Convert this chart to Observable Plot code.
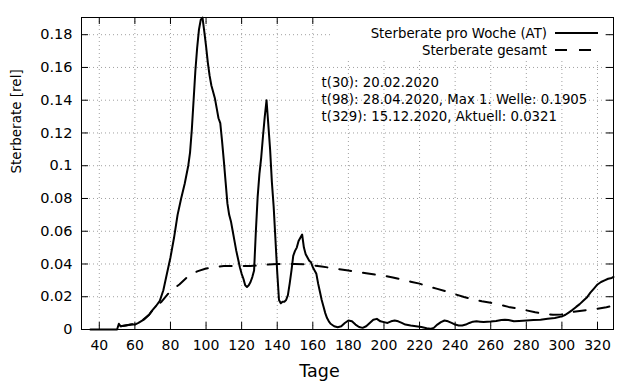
<!DOCTYPE html>
<html>
<head>
<meta charset="utf-8">
<script src="https://cdn.jsdelivr.net/npm/d3@7"></script>
<script src="https://cdn.jsdelivr.net/npm/@observablehq/plot@0.6"></script>
<style>
  html, body { margin: 0; padding: 0; background: white; }
  #wrap { position: relative; width: 640px; height: 384px; font-family: "DejaVu Sans", sans-serif; }
  #legend { position: absolute; left: 333px; top: 18px; }
</style>
</head>
<body>
<div id="wrap"></div>
<script>
// ---- data ----
const weeklyDays = [35,40,45,50,51,52,55,58,60,62,65,68,70,72,74,76,78,80,82,84,86,88,90,91,92,93,94,95,96,97,98,99,100,101,102,103,104,105,106,107,108,109,110,111,112,113,114,115,116,117,118,119,120,121,122,123,124,125,126,127,128,129,130,131,132,133,134,135,136,137,138,139,140,141,142,143,144,145,146,147,148,149,150,151,152,153,154,155,156,157,158,159,160,161,162,163,164,165,166,167,168,169,170,172,174,176,178,180,182,184,186,188,190,192,194,196,198,200,202,204,206,208,210,212,215,218,221,224,226,228,230,232,234,236,238,240,242,244,246,248,250,252,254,256,258,260,263,266,268,270,273,276,280,284,288,292,296,300,302,304,306,308,310,312,314,316,318,320,322,324,326,328,329];
const weeklyRate = [0,0,0,0,0.0035,0.002,0.0025,0.003,0.003,0.004,0.006,0.009,0.012,0.0145,0.0175,0.024,0.034,0.044,0.056,0.070,0.080,0.089,0.100,0.108,0.122,0.140,0.158,0.172,0.183,0.189,0.1905,0.182,0.173,0.163,0.155,0.149,0.145,0.141,0.135,0.129,0.126,0.115,0.103,0.090,0.077,0.070,0.066,0.060,0.054,0.048,0.043,0.038,0.034,0.031,0.027,0.026,0.027,0.029,0.032,0.036,0.060,0.081,0.095,0.105,0.118,0.130,0.140,0.125,0.110,0.090,0.075,0.055,0.035,0.018,0.016,0.017,0.017,0.018,0.021,0.028,0.036,0.045,0.048,0.050,0.054,0.056,0.058,0.050,0.046,0.044,0.042,0.041,0.038,0.036,0.034,0.028,0.023,0.018,0.014,0.010,0.007,0.005,0.0035,0.002,0.0014,0.002,0.004,0.0055,0.005,0.003,0.0015,0.001,0.002,0.004,0.006,0.0065,0.005,0.0045,0.004,0.005,0.0055,0.005,0.004,0.003,0.0024,0.002,0.0015,0.0008,0.0004,0.001,0.003,0.0045,0.0055,0.005,0.004,0.003,0.0025,0.0025,0.003,0.004,0.0048,0.005,0.0048,0.0046,0.0048,0.0049,0.0052,0.0058,0.006,0.0058,0.005,0.0052,0.0055,0.0058,0.006,0.0065,0.007,0.008,0.009,0.0105,0.012,0.0138,0.0155,0.0175,0.0195,0.0225,0.025,0.0275,0.029,0.030,0.031,0.0315,0.0321];

const totalDays = [52,56,60,64,68,71,75,80,85,90,95,100,105,110,115,120,125,130,135,140,145,150,155,160,165,170,175,180,185,190,195,200,205,210,215,220,225,230,235,240,245,250,255,260,265,270,275,280,285,290,295,300,305,310,315,320,325,329];
const totalRate = [0.002,0.0028,0.0035,0.0055,0.009,0.0135,0.017,0.0235,0.0275,0.0325,0.0355,0.0372,0.0383,0.0387,0.0388,0.0388,0.0388,0.0392,0.0397,0.0400,0.0401,0.0400,0.0399,0.0392,0.0385,0.0376,0.0368,0.0360,0.0352,0.0343,0.0335,0.0328,0.0318,0.0305,0.0292,0.0280,0.0262,0.0248,0.0232,0.0215,0.0198,0.0185,0.0172,0.0163,0.0152,0.0138,0.0128,0.0117,0.0105,0.0097,0.0090,0.0092,0.0105,0.0113,0.0120,0.0127,0.0136,0.0145];

const xTicks = [40,60,80,100,120,140,160,180,200,220,240,260,280,300,320];
const yTicks = [0,0.02,0.04,0.06,0.08,0.1,0.12,0.14,0.16,0.18];
const seriesNames = ["Sterberate pro Woche (AT)", "Sterberate gesamt"];
const annotationLines = [
  "t(30): 20.02.2020",
  "t(98): 28.04.2020, Max 1. Welle: 0.1905",
  "t(329): 15.12.2020, Aktuell: 0.0321"
];
const xLabel = "Tage";
const yLabel = "Sterberate [rel]";

// ---- tables ----
const weekly = weeklyDays.map((d, i) => ({day: d, rate: weeklyRate[i]}));
const total = totalDays.map((d, i) => ({day: d, rate: totalRate[i]}));

const W = 640, H = 384, mL = 81, mR = 27, mT = 17, mB = 55;
const innerH = H - mT - mB, innerW = W - mL - mR;
const tickLen = 7;
const gridStyle = {stroke: "#a0a0a0", strokeOpacity: 1, strokeWidth: 1, strokeDasharray: "1,3"};

const chart = Plot.plot({
  width: W, height: H,
  marginLeft: mL, marginRight: mR, marginTop: mT, marginBottom: mB,
  style: {fontFamily: "DejaVu Sans, sans-serif", fontSize: "14px", color: "black", background: "white"},
  x: {domain: [30, 329]},
  y: {domain: [0, 0.1905]},
  marks: [
    Plot.gridX(xTicks, gridStyle),
    Plot.gridY(yTicks.filter(d => d > 0), gridStyle),
    Plot.tickX(xTicks, {x: d => d, insetTop: innerH - tickLen, stroke: "black"}),
    Plot.tickX(xTicks, {x: d => d, insetBottom: innerH - tickLen, stroke: "black"}),
    Plot.tickY(yTicks, {y: d => d, insetRight: innerW - tickLen, stroke: "black"}),
    Plot.tickY(yTicks, {y: d => d, insetLeft: innerW - tickLen, stroke: "black"}),
    Plot.axisX({ticks: xTicks, tickSize: 0, tickPadding: 11, label: null, fontSize: 14}),
    Plot.axisY({ticks: yTicks, tickSize: 0, tickPadding: 9, label: null, fontSize: 14.5,
      tickFormat: d => String(+d.toFixed(2))}),
    Plot.text([yLabel], {frameAnchor: "left", dx: -65, rotate: -90, fontSize: 13.5}),
    Plot.text([xLabel], {frameAnchor: "bottom", dx: -28, dy: 47, fontSize: 17.5}),
    Plot.line(total, {x: "day", y: "rate", stroke: "black", strokeWidth: 2, strokeDasharray: "12,12"}),
    Plot.line(weekly, {x: "day", y: "rate", stroke: "black", strokeWidth: 2}),
    Plot.text([annotationLines.join("\n")], {frameAnchor: "top-left", textAnchor: "start", lineAnchor: "top",
      dx: 240, dy: 57, lineHeight: 1.29, fontSize: 13.3}),
    Plot.frame({stroke: "black", strokeWidth: 1})
  ]
});

const wrap = document.getElementById("wrap");
wrap.appendChild(chart);

// legend (gnuplot-style key, opaque box in the top-right of the plot)
const ns = "http://www.w3.org/2000/svg";
const leg = document.createElementNS(ns, "svg");
leg.setAttribute("id", "legend");
leg.setAttribute("width", 272);
leg.setAttribute("height", 40);
const bg = document.createElementNS(ns, "rect");
bg.setAttribute("width", 272); bg.setAttribute("height", 40); bg.setAttribute("fill", "white");
leg.appendChild(bg);
seriesNames.forEach((name, i) => {
  const y = 15 + i * 17;
  const t = document.createElementNS(ns, "text");
  t.setAttribute("x", 214); t.setAttribute("y", y);
  t.setAttribute("text-anchor", "end"); t.setAttribute("dominant-baseline", "central");
  t.setAttribute("font-family", "DejaVu Sans, sans-serif"); t.setAttribute("font-size", 13.3);
  t.textContent = name;
  leg.appendChild(t);
  const l = document.createElementNS(ns, "line");
  l.setAttribute("x1", 222); l.setAttribute("x2", 265);
  l.setAttribute("y1", y); l.setAttribute("y2", y);
  l.setAttribute("stroke", "black"); l.setAttribute("stroke-width", 2);
  if (i === 1) l.setAttribute("stroke-dasharray", "12,12");
  leg.appendChild(l);
});
wrap.appendChild(leg);
</script>
</body>
</html>
